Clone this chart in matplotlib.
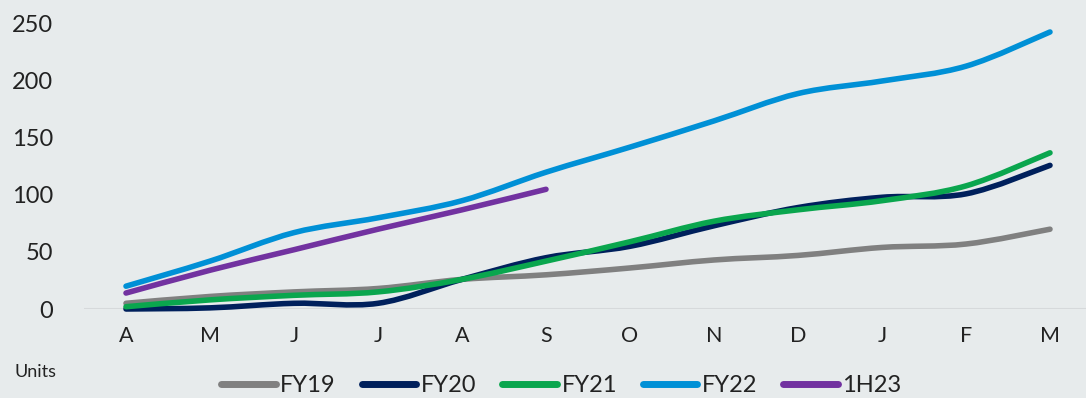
import matplotlib
matplotlib.use("Agg")
import matplotlib.pyplot as plt
from matplotlib.path import Path
from matplotlib.patches import PathPatch
from matplotlib.lines import Line2D
import numpy as np

months = ["A", "M", "J", "J", "A", "S", "O", "N", "D", "J", "F", "M"]
series_names = ["FY19", "FY20", "FY21", "FY22", "1H23"]
fy19 = [5, 11, 15, 18, 26, 30, 36, 43, 47, 54, 57, 70]
fy20 = [0, 1, 5, 5, 26, 45, 55, 73, 89, 98, 101, 126]
fy21 = [2, 8, 12, 15, 26, 42, 59, 77, 87, 95, 108, 137]
fy22 = [20, 42, 67, 80, 95, 120, 142, 165, 189, 200, 213, 243]
h123 = [14, 34, 52, 70, 87, 105]
colors = ["#808080", "#00205c", "#0aa64e", "#0090d6", "#7232a0"]

bg = "#e7ebec"
txt = "#222222"
plt.rcParams['font.family'] = ['Lato', 'DejaVu Sans']

fig = plt.figure(figsize=(10.86, 3.98), dpi=100, facecolor=bg)
ax = fig.add_axes([84/1086, 1 - 309/398, (1092-84)/1086, (309-24)/398])
ax.set_facecolor(bg)


def smooth_path(ys):
    pts = np.column_stack([np.arange(len(ys)), np.asarray(ys, float)])
    n = len(pts)
    verts = [pts[0]]
    codes = [Path.MOVETO]
    for i in range(n - 1):
        p0 = pts[i - 1] if i > 0 else pts[i]
        p1 = pts[i]
        p2 = pts[i + 1]
        p3 = pts[i + 2] if i + 2 < n else pts[i + 1]
        c1 = p1 + (p2 - p0) / 6.0
        c2 = p2 - (p3 - p1) / 6.0
        verts += [c1, c2, p2]
        codes += [Path.CURVE4] * 3
    return Path(verts, codes)


all_series = [fy19, fy20, fy21, fy22, h123]
for ys, c in zip(all_series, colors):
    patch = PathPatch(smooth_path(ys), facecolor="none", edgecolor=c,
                      linewidth=4.0, capstyle="round", joinstyle="round",
                      clip_on=False, zorder=3)
    ax.add_patch(patch)

ax.axhline(0, color="#d6d9db", linewidth=1.5, zorder=1)
ax.set_xlim(-0.5, 11.5)
ax.set_ylim(0, 250)
ax.set_yticks([0, 50, 100, 150, 200, 250])
ax.set_xticks(range(len(months)))
ax.set_xticklabels(months)
for s in ax.spines.values():
    s.set_visible(False)
ax.tick_params(axis="both", length=0, colors=txt)
ax.tick_params(axis="y", labelsize=17, pad=22)
ax.tick_params(axis="x", labelsize=15.5, pad=12)

fig.text(15/1086, 1 - 372/398, "Units", fontsize=13, color=txt,
         va="center", ha="left")

handles = [Line2D([0], [0], color=c, linewidth=5, solid_capstyle="round")
           for c in colors]
leg = fig.legend(handles, series_names, loc="center", ncol=5,
                 bbox_to_anchor=(0.517, 1 - 386/398), frameon=False,
                 fontsize=17, handlelength=2.3, handletextpad=0.2,
                 columnspacing=1.1, borderaxespad=0, borderpad=0)
for t in leg.get_texts():
    t.set_color(txt)

fig.savefig("out.png", dpi=100, facecolor=bg)
